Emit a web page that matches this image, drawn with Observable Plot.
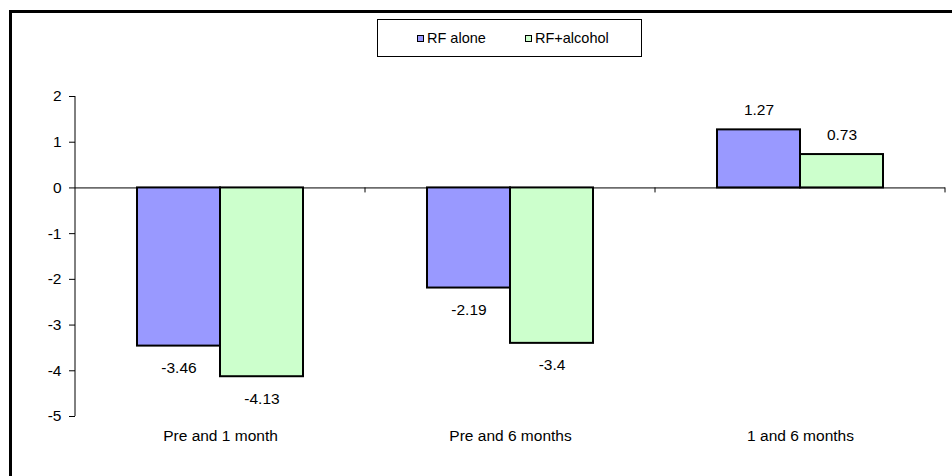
<!DOCTYPE html>
<html>
<head>
<meta charset="utf-8">
<script src="https://cdn.jsdelivr.net/npm/d3@7"></script>
<script src="https://cdn.jsdelivr.net/npm/@observablehq/plot@0.6"></script>
<style>
  html, body { margin: 0; padding: 0; background: #fff; overflow: hidden; }
  #wrap { position: relative; width: 952px; height: 476px; overflow: hidden; font-family: "Liberation Sans", Arial, sans-serif; }
  #frame { position: absolute; left: 9px; top: 10px; width: 1000px; height: 1000px; border: 3px solid #000; box-sizing: border-box; }
  #chart { position: absolute; left: 0; top: 0; }
  #legend { position: absolute; left: 377px; top: 19px; width: 265px; height: 38px; border: 1px solid #000; box-sizing: border-box; background: #fff; }
  .li { position: absolute; top: 0; height: 36px; display: flex; align-items: center; font-size: 14.5px; color: #000; white-space: nowrap; }
  .sw { width: 5px; height: 5px; border: 1px solid #000; margin-right: 3px; }
</style>
</head>
<body>
<div id="wrap">
  <div id="frame"></div>
  <div id="chart"></div>
  <div id="legend"></div>
</div>
<script>
const categories = ["Pre and 1 month", "Pre and 6 months", "1 and 6 months"];
const seriesNames = ["RF alone", "RF+alcohol"];
const rfAlone = [-3.46, -2.19, 1.27];
const rfAlcohol = [-4.13, -3.4, 0.73];
const valueLabels = [["-3.46", "-2.19", "1.27"], ["-4.13", "-3.4", "0.73"]];
const yTicks = [-5, -4, -3, -2, -1, 0, 1, 2];
const colors = ["#9999FF", "#CCFFCC"];

const rows = [];
[rfAlone, rfAlcohol].forEach((vals, s) => {
  vals.forEach((v, i) => rows.push({category: categories[i], series: seriesNames[s], value: v, label: valueLabels[s][i], s}));
});
const sA = rows.filter(r => r.s === 0);
const sB = rows.filter(r => r.s === 1);

function axesExtras(index, scales, values, dims) {
  const g = d3.create("svg:g");
  const x = scales.x, y = scales.y;
  const bw = x.bandwidth();
  const y0 = y(0);
  g.append("line").attr("x1", dims.marginLeft).attr("x2", dims.marginLeft)
    .attr("y1", y(2)).attr("y2", y(-5)).attr("stroke", "#000").attr("stroke-width", 1);
  const bounds = categories.map(c => x(c)).concat([x(categories[categories.length - 1]) + bw]);
  bounds.slice(1).forEach(b => {
    g.append("line").attr("x1", b).attr("x2", b).attr("y1", y0).attr("y2", y0 + 5)
      .attr("stroke", "#000").attr("stroke-width", 1);
  });
  return g.node();
}

const font = "Liberation Sans, Arial, sans-serif";
const fs = 15.5;
const labelMarks = [];
[[sA, -41.5], [sB, 41.5]].forEach(([data, dx]) => {
  labelMarks.push(Plot.text(data.filter(d => d.value < 0), {x: "category", y: "value", text: "label", dx, dy: 22, fontSize: fs, fill: "#000"}));
  labelMarks.push(Plot.text(data.filter(d => d.value >= 0), {x: "category", y: "value", text: "label", dx, dy: -20, fontSize: fs, fill: "#000"}));
});

const plot = Plot.plot({
  width: 952,
  height: 476,
  marginLeft: 75,
  marginRight: 7,
  marginTop: 96,
  marginBottom: 60,
  style: {fontFamily: font, fontSize: fs + "px", color: "#000", background: "transparent", overflow: "visible"},
  x: {domain: categories, padding: 0, axis: null},
  y: {domain: [-5, 2], axis: null},
  marks: [
    Plot.axisY({ticks: yTicks, tickSize: 6, tickPadding: 8, tickFormat: d => String(d), label: null, stroke: "#000", fontSize: fs}),
    Plot.axisX({tickSize: 0, tickPadding: 13, label: null, fontSize: fs}),
    Plot.ruleY([0], {stroke: "#000", strokeWidth: 1}),
    Plot.barY(sA, {x: "category", y: "value", fill: colors[0], stroke: "#000", strokeWidth: 2, insetLeft: 62, insetRight: 145}),
    Plot.barY(sB, {x: "category", y: "value", fill: colors[1], stroke: "#000", strokeWidth: 2, insetLeft: 145, insetRight: 62}),
    ...labelMarks,
    axesExtras
  ]
});
document.getElementById("chart").appendChild(plot);

const legend = document.getElementById("legend");
const legendLefts = [39, 147];
seriesNames.forEach((name, i) => {
  const item = document.createElement("div");
  item.className = "li";
  item.style.left = legendLefts[i] + "px";
  const sw = document.createElement("div");
  sw.className = "sw";
  sw.style.background = colors[i];
  const t = document.createElement("span");
  t.textContent = name;
  item.appendChild(sw);
  item.appendChild(t);
  legend.appendChild(item);
});
</script>
</body>
</html>
